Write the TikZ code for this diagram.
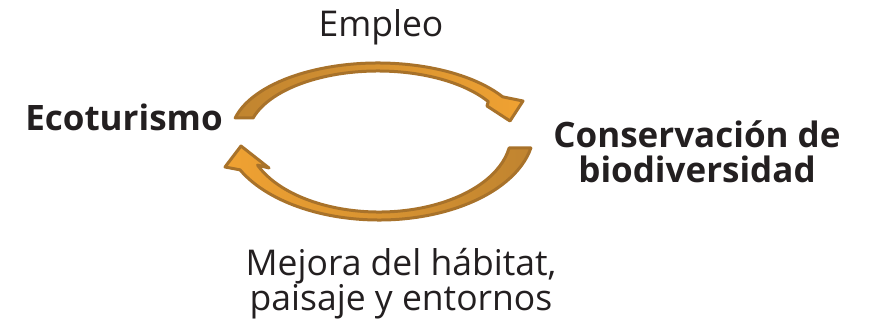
\documentclass[tikz,border=0pt]{standalone}
\usepackage{fontspec}
\setmainfont{Open Sans}
\usetikzlibrary{calc}
\definecolor{arrowbrown}{RGB}{168,114,42}
\definecolor{arroworange}{RGB}{240,162,50}
\definecolor{arrowtan}{RGB}{192,132,48}
\definecolor{textgray}{RGB}{35,31,32}

\begin{document}
\begin{tikzpicture}[x=1pt,y=-1pt,
    txt/.style={font=\fontsize{35.5}{35}\selectfont, text=textgray, inner sep=0pt, anchor=base, align=center},
    boldtxt/.style={txt, font=\fontsize{35}{35}\selectfont\bfseries},
    cyclearrow/.style={draw=arrowbrown, line width=3pt, line join=round}]
	\useasboundingbox (0,0) rectangle (872,334);
	% upper arrow: Ecoturismo -> Conservacion
	\path[cyclearrow, left color=arrowtan, right color=arroworange]
		($(378,135)+(193.7:147 and 72)$) arc[start angle=193.7, end angle=328, x radius=147, y radius=72]
		-- (523,101) -- (510,121) -- (487,106)
		-- ($(378,136)+(328:130 and 65)$) arc[start angle=328, end angle=196.1, x radius=130, y radius=65] -- cycle;
	% lower arrow: Conservacion -> Ecoturismo
	\path[cyclearrow, left color=arroworange, right color=arrowtan]
		($(379,130)+(11.5:155 and 90)$) arc[start angle=11.5, end angle=153.7, x radius=155, y radius=90]
		-- (225,167) -- (241,146) -- (269,168)
		-- ($(379,135)+(157:132 and 77)$) arc[start angle=157, end angle=9.7, x radius=132, y radius=77] -- cycle;
	\node[boldtxt] (eco) at (124,130) {Ecoturismo};
	\node[txt] (empleo) at (381,37) {Empleo};
	\node[boldtxt] (cons) at (697,182) {Conservación de\\biodiversidad};
	\node[txt] (mejora) at (401,310) {Mejora del hábitat,\\paisaje y entornos};
\end{tikzpicture}
\end{document}
